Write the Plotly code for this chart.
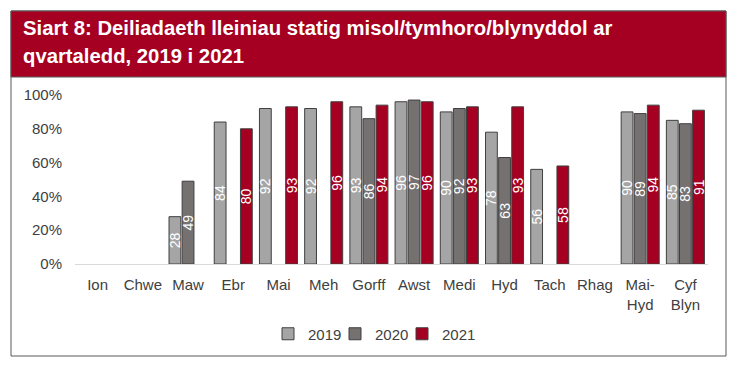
import plotly.graph_objects as go

categories = ["Ion", "Chwe", "Maw", "Ebr", "Mai", "Meh", "Gorff", "Awst", "Medi",
              "Hyd", "Tach", "Rhag", "Mai-<br>Hyd", "Cyf<br>Blyn"]
vals_2019 = [None, None, 28, 84, 92, 92, 93, 96, 90, 78, 56, None, 90, 85]
vals_2020 = [None, None, 49, None, None, None, 86, 97, 92, 63, None, None, 89, 83]
vals_2021 = [None, None, None, 80, 93, 96, 94, 96, 93, 93, 58, None, 94, 91]
series_names = ["2019", "2020", "2021"]
colors = ["#A5A5A5", "#767171", "#A50021"]
y_ticks = [0, 20, 40, 60, 80, 100]
y_tick_text = ["0%", "20%", "40%", "60%", "80%", "100%"]

title_line1 = "Siart 8: Deiliadaeth lleiniau statig misol/tymhoro/blynyddol ar"
title_line2 = "qvartaledd, 2019 i 2021"

W, H = 734, 368
L, R, T, B = 75, 26, 95, 104
pw, ph = W - L - R, H - T - B

def px(x):
    return (x - L) / pw

def py(y):
    return (H - B - y) / ph

FONT = "Liberation Sans, Arial, sans-serif"
legend_ids = ["legend", "legend2", "legend3"]
legend_lefts = [268, 335, 402]

fig = go.Figure()
for name, vals, col, lid in zip(series_names, [vals_2019, vals_2020, vals_2021], colors, legend_ids):
    fig.add_trace(go.Bar(
        name=name, x=categories, y=vals, legend=lid,
        marker=dict(color=col, line=dict(color="#3F3F3F", width=1)),
        text=[("" if v is None else str(v)) for v in vals],
        textposition="inside", insidetextanchor="middle", textangle=-90,
        textfont=dict(color="white", size=14, family=FONT),
        cliponaxis=False,
    ))

legend_common = dict(orientation="h", xanchor="left", y=py(334), yanchor="middle",
                     font=dict(size=15, color="#404040"), itemwidth=30,
                     bgcolor="rgba(0,0,0,0)", borderwidth=0)
fig.update_layout(
    width=W, height=H,
    margin=dict(l=L, r=R, t=T, b=B, autoexpand=False),
    paper_bgcolor="white", plot_bgcolor="white",
    barmode="group", bargap=0.13, bargroupgap=0.1,
    font=dict(family=FONT, size=15, color="#404040"),
    showlegend=True,
    legend=dict(x=px(legend_lefts[0]), **legend_common),
    legend2=dict(x=px(legend_lefts[1]), **legend_common),
    legend3=dict(x=px(legend_lefts[2]), **legend_common),
    uniformtext=dict(minsize=8, mode="show"),
)
fig.update_xaxes(showline=True, linecolor="#D9D9D9", linewidth=1, ticks="",
                 ticklabelstandoff=7,
                 tickfont=dict(size=15, color="#404040"), showgrid=False)
fig.update_yaxes(range=[0, 100], tickmode="array", tickvals=y_ticks, ticktext=y_tick_text,
                 showgrid=False, zeroline=False, showline=False, ticklabelstandoff=12,
                 tickfont=dict(size=15, color="#404040"))

# Outer border and title banner
fig.add_shape(type="rect", xref="paper", yref="paper",
              x0=px(11), x1=px(726), y0=py(356), y1=py(11),
              line=dict(color="#595959", width=1), fillcolor="rgba(0,0,0,0)", layer="below")
fig.add_shape(type="rect", xref="paper", yref="paper",
              x0=px(11), x1=px(726), y0=py(77), y1=py(11),
              line=dict(color="#595959", width=1), fillcolor="#A50021", layer="below")
fig.add_annotation(text="<b>" + title_line1 + "</b>", xref="paper", yref="paper",
                   x=px(21), y=py(28), xanchor="left", yanchor="middle", showarrow=False,
                   font=dict(size=20.3, color="white", family=FONT))
fig.add_annotation(text="<b>" + title_line2 + "</b>", xref="paper", yref="paper",
                   x=px(21), y=py(56), xanchor="left", yanchor="middle", showarrow=False,
                   font=dict(size=20.3, color="white", family=FONT))

fig.write_html("out.html", config={"displayModeBar": False},
               post_script="document.body.style.margin='0';")
